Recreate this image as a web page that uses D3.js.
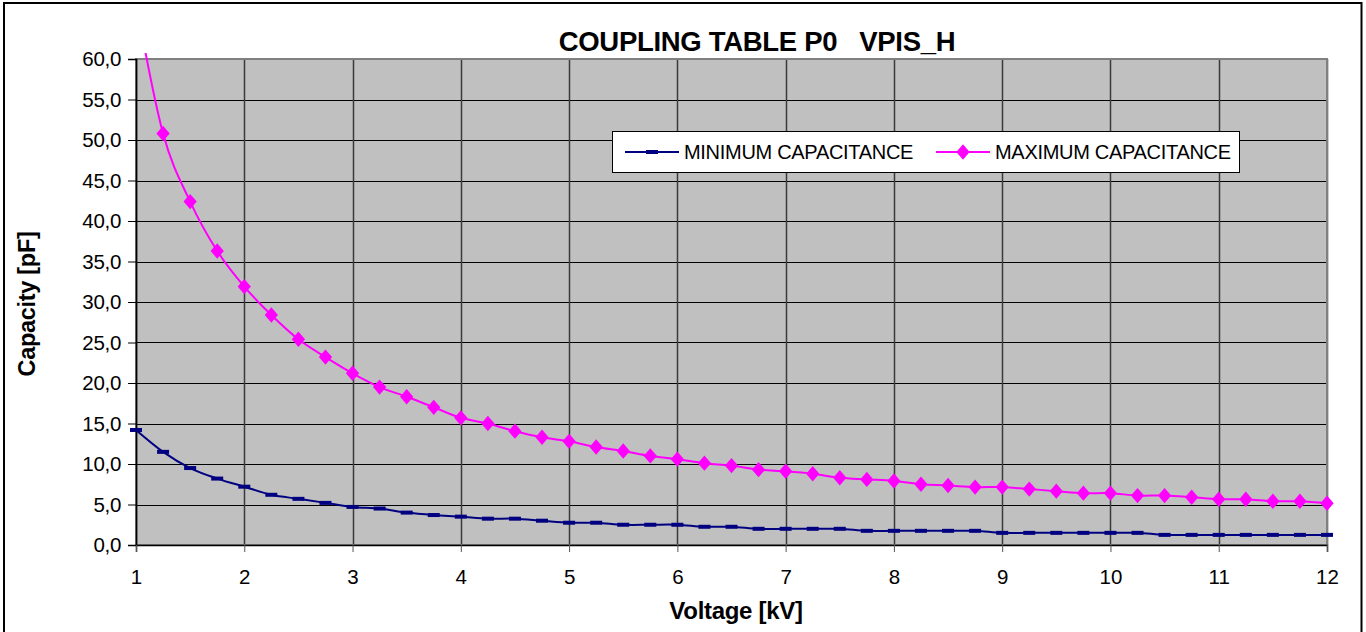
<!DOCTYPE html>
<html>
<head>
<meta charset="utf-8">
<script src="https://cdn.jsdelivr.net/npm/d3@7"></script>
<style>
  html, body { margin: 0; padding: 0; background: #fff; }
  svg { display: block; font-family: "Liberation Sans", Arial, sans-serif; }
</style>
</head>
<body>
<svg id="chart" width="1366" height="632"></svg>
<script>
// ---- DATA ----
const voltage = [1, 1.25, 1.5, 1.75, 2, 2.25, 2.5, 2.75, 3, 3.25, 3.5, 3.75, 4, 4.25, 4.5, 4.75,
  5, 5.25, 5.5, 5.75, 6, 6.25, 6.5, 6.75, 7, 7.25, 7.5, 7.75, 8, 8.25, 8.5, 8.75,
  9, 9.25, 9.5, 9.75, 10, 10.25, 10.5, 10.75, 11, 11.25, 11.5, 11.75, 12];
const minCapacitance = [14.2, 11.5, 9.5, 8.2, 7.2, 6.2, 5.7, 5.2, 4.7, 4.5, 4.0, 3.7, 3.5, 3.25, 3.25, 3.0,
  2.75, 2.75, 2.5, 2.5, 2.5, 2.25, 2.25, 2.0, 2.0, 2.0, 2.0, 1.75, 1.75, 1.75, 1.75, 1.75,
  1.5, 1.5, 1.5, 1.5, 1.5, 1.5, 1.25, 1.25, 1.25, 1.25, 1.25, 1.25, 1.25];
const maxCapacitance = [67, 50.8, 42.4, 36.3, 31.9, 28.4, 25.4, 23.2, 21.2, 19.5, 18.3, 17.0, 15.7, 15.0, 14.05, 13.3,
  12.8, 12.1, 11.6, 11.0, 10.6, 10.1, 9.8, 9.3, 9.1, 8.8, 8.3, 8.1, 7.9, 7.5, 7.35, 7.15,
  7.15, 6.9, 6.65, 6.4, 6.4, 6.1, 6.1, 5.9, 5.65, 5.65, 5.4, 5.4, 5.15];
const xTicks = [1, 2, 3, 4, 5, 6, 7, 8, 9, 10, 11, 12];
const yTicks = [0, 5, 10, 15, 20, 25, 30, 35, 40, 45, 50, 55, 60];
const seriesNames = ["MINIMUM CAPACITANCE", "MAXIMUM CAPACITANCE"];
const titleText = "COUPLING TABLE P0   VPIS_H";
const xTitle = "Voltage [kV]";
const yTitle = "Capacity [pF]";

// ---- LAYOUT ----
const svg = d3.select("#chart");
const L = 136, R = 1327, T = 59, B = 545;
const x = d3.scaleLinear().domain([1, 12]).range([L, R]);
const y = d3.scaleLinear().domain([0, 60]).range([B, T]);
const fmt = v => d3.format(".1f")(v).replace(".", ",");

// outer border
svg.append("rect").attr("x", 4).attr("y", 3).attr("width", 1357.5).attr("height", 640)
  .attr("fill", "#fff").attr("stroke", "#000").attr("stroke-width", 2);

// plot area
svg.append("rect").attr("x", L).attr("y", T).attr("width", R - L).attr("height", B - T)
  .attr("fill", "#C0C0C0");

// gridlines
svg.append("g").selectAll("line").data(yTicks).join("line")
  .attr("x1", L).attr("x2", R)
  .attr("y1", d => Math.round(y(d)) + 0.5).attr("y2", d => Math.round(y(d)) + 0.5)
  .attr("stroke", "#000").attr("stroke-width", 1);
svg.append("g").selectAll("line").data(xTicks).join("line")
  .attr("x1", d => Math.round(x(d)) + 0.5).attr("x2", d => Math.round(x(d)) + 0.5)
  .attr("y1", T).attr("y2", B)
  .attr("stroke", "#3a3a3a").attr("stroke-width", 1.5);

// plot border
svg.append("rect").attr("x", L).attr("y", T).attr("width", R - L).attr("height", B - T)
  .attr("fill", "none").attr("stroke", "#808080").attr("stroke-width", 2);

// axes
const yAxis = d3.axisLeft(y).tickValues(yTicks).tickSize(8).tickPadding(7).tickFormat(fmt);
const gy = svg.append("g").attr("transform", `translate(${L},0)`).call(yAxis);
gy.select(".domain").attr("stroke", "#000").attr("stroke-width", 1.5);
gy.selectAll(".tick line").attr("stroke", "#000");
gy.selectAll(".tick text").attr("font-size", 20.5).attr("fill", "#000")
  .attr("letter-spacing", -0.3)
  .attr("font-family", "Liberation Sans, Arial, sans-serif");

const xAxis = d3.axisBottom(x).tickValues(xTicks).tickSize(7).tickPadding(17).tickFormat(d3.format("d"));
const gx = svg.append("g").attr("transform", `translate(0,${B})`).call(xAxis);
gx.select(".domain").attr("stroke", "#000").attr("stroke-width", 1.5);
gx.selectAll(".tick line").attr("stroke", "#555");
gx.selectAll(".tick text").attr("font-size", 20.5).attr("fill", "#000")
  .attr("font-family", "Liberation Sans, Arial, sans-serif");

// clip for series
svg.append("clipPath").attr("id", "clip").append("rect")
  .attr("x", 0).attr("y", 53).attr("width", 1366).attr("height", 600);

const line = d3.line().curve(d3.curveCatmullRom.alpha(0)).x((d, i) => x(voltage[i])).y(d => y(d));

const gs = svg.append("g").attr("clip-path", "url(#clip)");
// min series
gs.append("path").datum(minCapacitance).attr("d", line)
  .attr("fill", "none").attr("stroke", "#000080").attr("stroke-width", 2);
gs.append("g").selectAll("rect").data(minCapacitance).join("rect")
  .attr("x", (d, i) => x(voltage[i]) - 6).attr("y", d => y(d) - 2)
  .attr("width", 12).attr("height", 4).attr("fill", "#000080");
// max series
gs.append("path").datum(maxCapacitance).attr("d", line)
  .attr("fill", "none").attr("stroke", "#FF00FF").attr("stroke-width", 2);
const diamond = d3.symbol().type(d3.symbolDiamond).size(68);
gs.append("g").selectAll("path").data(maxCapacitance).join("path")
  .attr("d", diamond)
  .attr("transform", (d, i) => `translate(${x(voltage[i])},${y(d)}) scale(1.5,1)`)
  .attr("fill", "#FF00FF")
  .style("display", (d) => y(d) < T ? "none" : null);

// title
svg.append("text").attr("x", 757).attr("y", 51).attr("text-anchor", "middle")
  .attr("font-size", 27.5).attr("font-weight", "bold").attr("fill", "#000")
  .attr("letter-spacing", -0.3)
  .style("white-space", "pre").text(titleText);

// axis titles
svg.append("text").attr("x", 736).attr("y", 619).attr("text-anchor", "middle")
  .attr("font-size", 24).attr("font-weight", "bold").attr("letter-spacing", -0.3).text(xTitle);
svg.append("text").attr("transform", "translate(35,304) rotate(-90)").attr("text-anchor", "middle")
  .attr("font-size", 23.5).attr("font-weight", "bold").attr("letter-spacing", -0.3).text(yTitle);

// legend
const lg = svg.append("g");
lg.append("rect").attr("x", 612.5).attr("y", 131.5).attr("width", 627).attr("height", 41)
  .attr("fill", "#fff").attr("stroke", "#000").attr("stroke-width", 1);
const ly = 152;
// min
lg.append("line").attr("x1", 625).attr("x2", 679).attr("y1", ly).attr("y2", ly)
  .attr("stroke", "#000080").attr("stroke-width", 2);
lg.append("rect").attr("x", 646).attr("y", ly - 2).attr("width", 12).attr("height", 4).attr("fill", "#000080");
lg.append("text").attr("x", 684).attr("y", ly + 7).attr("font-size", 20)
  .attr("letter-spacing", -0.3).text(seriesNames[0]);
// max
lg.append("line").attr("x1", 936).attr("x2", 990).attr("y1", ly).attr("y2", ly)
  .attr("stroke", "#FF00FF").attr("stroke-width", 2);
lg.append("path").attr("d", diamond).attr("transform", `translate(963,${ly}) scale(1.5,1)`).attr("fill", "#FF00FF");
lg.append("text").attr("x", 995).attr("y", ly + 7).attr("font-size", 20)
  .attr("letter-spacing", -0.3).text(seriesNames[1]);
</script>
</body>
</html>
